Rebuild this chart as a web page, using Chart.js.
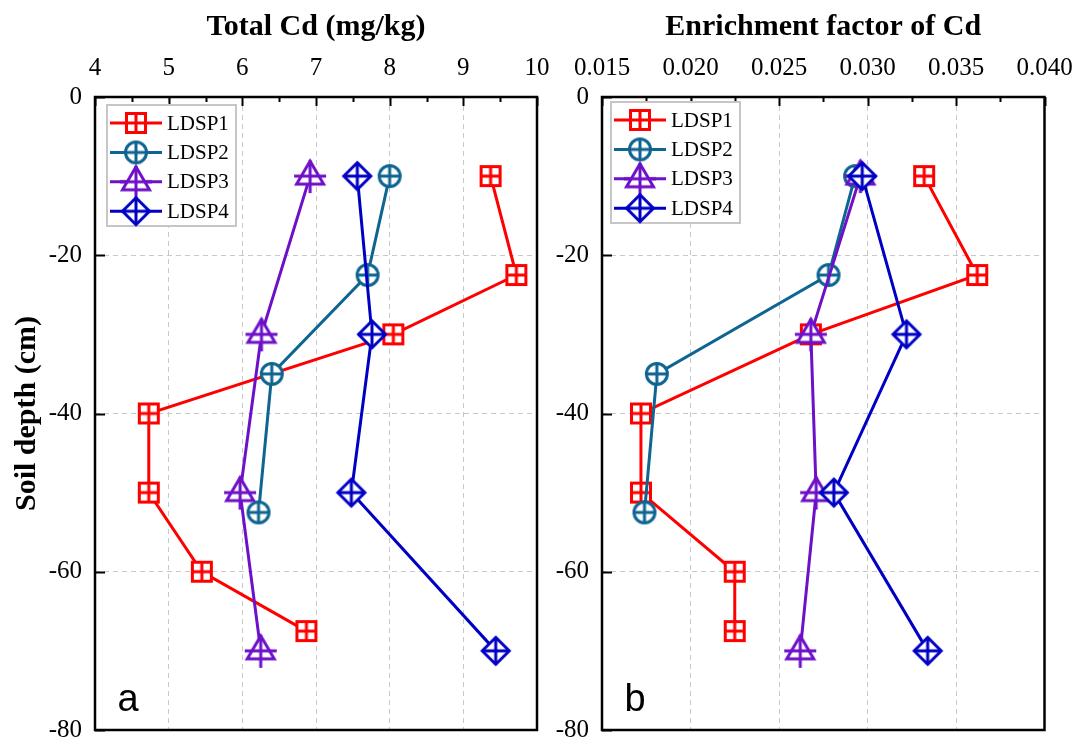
<!DOCTYPE html>
<html>
<head>
<meta charset="utf-8">
<script src="https://cdn.jsdelivr.net/npm/chart.js@4.4.1/dist/chart.umd.min.js"></script>
<style>
  html, body { margin: 0; padding: 0; background: #fff; }
  #wrap { position: relative; width: 1074px; height: 737px; overflow: hidden; }
  #cdChart { position: absolute; left: 0; top: 0; }
  #efChart { position: absolute; left: 545px; top: 0; }
</style>
</head>
<body>
<div id="wrap">
  <canvas id="cdChart" width="560" height="737"></canvas>
  <canvas id="efChart" width="529" height="737"></canvas>
</div>
<script>
// profile data
const seriesNames = ['LDSP1', 'LDSP2', 'LDSP3', 'LDSP4'];

const depth1 = [-10, -22.5, -30, -40, -50, -60, -67.5];
const cd1 = [9.37, 9.72, 8.05, 4.73, 4.73, 5.45, 6.87];
const ef1 = [0.0332, 0.0362, 0.0268, 0.0172, 0.0172, 0.0225, 0.0225];

const depth2 = [-10, -22.5, -35, -52.5];
const cd2 = [8.0, 7.7, 6.4, 6.22];
const ef2 = [0.0293, 0.0278, 0.0181, 0.0174];

const depth3 = [-10, -30, -50, -70];
const cd3 = [6.92, 6.26, 5.97, 6.25];
const ef3 = [0.0296, 0.0268, 0.0271, 0.0262];

const depth4 = [-10, -30, -50, -70];
const cd4 = [7.56, 7.76, 7.48, 9.44];
const ef4 = [0.0297, 0.0322, 0.0281, 0.0334];

const depthTicks = [0, -20, -40, -60, -80];
const cdTicks = [4, 5, 6, 7, 8, 9, 10];
const efTicks = ['0.015', '0.020', '0.025', '0.030', '0.035', '0.040'];

const colors = ['#ff0000', '#0e6591', '#6e10c8', '#0000c4'];
const shapes = ['square', 'circle', 'triangle', 'diamond'];
const SERIF = '"Liberation Serif", "Times New Roman", serif';

// Origin-style hollow markers with a cross inside
function makeMarker(kind, color) {
    const c = document.createElement('canvas');
    c.width = 40; c.height = 40;
    const g = c.getContext('2d');
    g.translate(20, 20);
    g.strokeStyle = color; g.fillStyle = '#fff'; g.lineWidth = 3;
    g.beginPath();
    if (kind === 'square') {
        g.rect(-9.5, -9.5, 19, 19); g.fill(); g.stroke();
        g.beginPath(); g.moveTo(0, -9.5); g.lineTo(0, 9.5); g.moveTo(-9.5, 0); g.lineTo(9.5, 0);
    } else if (kind === 'circle') {
        g.arc(0, 0, 10.5, 0, Math.PI * 2); g.fill(); g.stroke();
        g.beginPath(); g.moveTo(0, -10.5); g.lineTo(0, 10.5); g.moveTo(-10.5, 0); g.lineTo(10.5, 0);
    } else if (kind === 'triangle') {
        g.moveTo(0, -15); g.lineTo(13.5, 8); g.lineTo(-13.5, 8); g.closePath(); g.fill(); g.stroke();
        g.beginPath(); g.moveTo(0, -16); g.lineTo(0, 17); g.moveTo(-16, 0); g.lineTo(16, 0);
    } else {
        g.moveTo(0, -13.5); g.lineTo(13.5, 0); g.lineTo(0, 13.5); g.lineTo(-13.5, 0); g.closePath(); g.fill(); g.stroke();
        g.beginPath(); g.moveTo(0, -13.5); g.lineTo(0, 13.5); g.moveTo(-13.5, 0); g.lineTo(13.5, 0);
    }
    g.stroke();
    return c;
}
const markers = shapes.map((s, i) => makeMarker(s, colors[i]));

function pts(xs, ys) { return xs.map((x, i) => ({ x: x, y: ys[i] })); }

function buildSets(list) {
    return list.map((d, i) => ({
        label: seriesNames[i],
        data: d,
        showLine: true,
        borderColor: colors[i],
        borderWidth: 3,
        pointStyle: markers[i],
        pointRadius: 10,
        pointHoverRadius: 10,
        order: 3 - i
    }));
}

// frame, inward ticks, legend box and panel letter
const panelPlugin = {
    id: 'panel',
    beforeDatasetsDraw(chart, args, opts) {
        const ctx = chart.ctx, a = chart.chartArea;
        const xs = chart.scales.x, ys = chart.scales.y;
        ctx.save();
        ctx.strokeStyle = '#000';
        ctx.lineWidth = 2;
        ctx.beginPath();
        const xv = xs.ticks.map(t => t.value);
        xv.forEach((v, i) => {
            const px = Math.round(xs.getPixelForValue(v)) + 0.5;
            ctx.moveTo(px, a.top); ctx.lineTo(px, a.top + 9);
            if (i < xv.length - 1) {
                const pm = Math.round(xs.getPixelForValue((v + xv[i + 1]) / 2)) + 0.5;
                ctx.moveTo(pm, a.top); ctx.lineTo(pm, a.top + 5);
            }
        });
        ys.ticks.forEach(t => {
            const py = Math.round(ys.getPixelForValue(t.value)) + 0.5;
            ctx.moveTo(a.left, py); ctx.lineTo(a.left + 10, py);
        });
        ctx.stroke();
        ctx.lineWidth = 2.5;
        ctx.strokeRect(a.left, a.top, a.right - a.left, a.bottom - a.top);
        ctx.restore();
    },
    afterDatasetsDraw(chart, args, opts) {
        const ctx = chart.ctx, a = chart.chartArea;
        ctx.save();
        const bx = a.left + opts.boxX, by = a.top + opts.boxY;
        ctx.fillStyle = '#fff';
        ctx.fillRect(bx, by, 129, 121);
        ctx.strokeStyle = '#c6c6c6';
        ctx.lineWidth = 2;
        ctx.strokeRect(bx, by, 129, 121);
        ctx.font = '21px ' + SERIF;
        ctx.textBaseline = 'middle';
        seriesNames.forEach((name, i) => {
            const y = by + 18 + i * 29.4;
            ctx.strokeStyle = colors[i];
            ctx.lineWidth = 3;
            ctx.beginPath(); ctx.moveTo(bx + 3, y); ctx.lineTo(bx + 55, y); ctx.stroke();
            ctx.drawImage(markers[i], bx + 29 - 20, y - 20);
            ctx.fillStyle = '#000';
            ctx.fillText(name, bx + 60, y + 1);
        });
        ctx.font = '38px "Liberation Sans", Arial, sans-serif';
        ctx.textAlign = 'center';
        ctx.textBaseline = 'alphabetic';
        ctx.fillStyle = '#000';
        ctx.fillText(opts.letter, a.left + 33, a.bottom - 19);
        ctx.restore();
    }
};

function makeOptions(cfg) {
    return {
        responsive: false,
        animation: false,
        events: [],
        layout: { autoPadding: false, padding: { left: 0, top: 0, right: cfg.padRight, bottom: 7 } },
        plugins: {
            legend: { display: false },
            tooltip: { enabled: false },
            panel: { letter: cfg.letter, boxX: cfg.boxX, boxY: cfg.boxY }
        },
        scales: {
            x: {
                type: 'linear',
                position: 'top',
                min: cfg.xMin, max: cfg.xMax,
                afterFit: s => { s.height = 97; s.paddingLeft = 0; s.paddingRight = 0; },
                afterBuildTicks: s => { s.ticks = cfg.xTicks.map(v => ({ value: Number(v) })); },
                ticks: {
                    padding: 14,
                    color: '#000',
                    font: { family: SERIF, size: 25 },
                    maxRotation: 0,
                    autoSkip: false,
                    callback: cfg.xFmt
                },
                grid: { color: '#c8c8c8', lineWidth: 1, drawTicks: false },
                border: { display: false, dash: [5, 4] },
                title: {
                    display: true,
                    text: cfg.xTitle,
                    color: '#000',
                    font: { family: SERIF, size: 30, weight: 'bold' },
                    padding: { top: 9, bottom: 0 }
                }
            },
            y: {
                type: 'linear',
                min: -80, max: 0,
                afterFit: s => { s.width = cfg.yWidth; s.paddingTop = 0; s.paddingBottom = 0; },
                afterBuildTicks: s => { s.ticks = depthTicks.map(v => ({ value: v })); },
                ticks: {
                    padding: 13,
                    color: '#000',
                    font: { family: SERIF, size: 25, lineHeight: 0.5 },
                    autoSkip: false
                },
                grid: { color: '#c8c8c8', lineWidth: 1, drawTicks: false },
                border: { display: false, dash: [5, 4] },
                title: {
                    display: cfg.yTitle !== '',
                    text: cfg.yTitle,
                    color: '#000',
                    font: { family: SERIF, size: 30, weight: 'bold' },
                    padding: { top: 9, bottom: 0 }
                }
            }
        }
    };
}

new Chart(document.getElementById('cdChart'), {
    type: 'scatter',
    data: { datasets: buildSets([pts(cd1, depth1), pts(cd2, depth2), pts(cd3, depth3), pts(cd4, depth4)]) },
    options: makeOptions({
        letter: 'a', boxX: 12, boxY: 8, padRight: 23, yWidth: 95,
        xMin: 4, xMax: 10, xTicks: cdTicks, xFmt: v => String(v),
        xTitle: 'Total Cd (mg/kg)', yTitle: 'Soil depth (cm)'
    }),
    plugins: [panelPlugin]
});

new Chart(document.getElementById('efChart'), {
    type: 'scatter',
    data: { datasets: buildSets([pts(ef1, depth1), pts(ef2, depth2), pts(ef3, depth3), pts(ef4, depth4)]) },
    options: makeOptions({
        letter: 'b', boxX: 9, boxY: 5, padRight: 29.5, yWidth: 57,
        xMin: 0.015, xMax: 0.040, xTicks: efTicks, xFmt: v => v.toFixed(3),
        xTitle: 'Enrichment factor of Cd', yTitle: ''
    }),
    plugins: [panelPlugin]
});
</script>
</body>
</html>
